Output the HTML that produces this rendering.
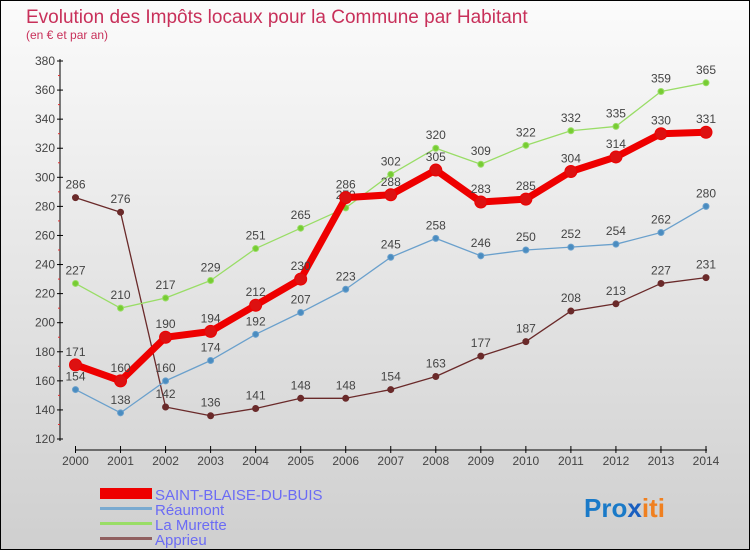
<!DOCTYPE html>
<html><head><meta charset="utf-8"><style>
body{margin:0}
#c{width:750px;height:550px;position:relative;box-sizing:border-box;border:1px solid #000;background:linear-gradient(#fbfbfb,#cfcfcf);font-family:"Liberation Sans",sans-serif;overflow:hidden}
</style></head><body>
<div id="c">
<svg id="s" width="750" height="550" style="position:absolute;left:-1px;top:-1px" font-family="Liberation Sans, sans-serif">
<text x="26" y="23" font-size="19" fill="#c8305a">Evolution des Impôts locaux pour la Commune par Habitant</text>
<text x="26" y="39" font-size="12" fill="#c8305a">(en € et par an)</text>
<g id="g"></g>
<g>
<rect x="100" y="488" width="52" height="11" fill="#e00"/>
<text x="155" y="500" font-size="15" fill="#6b6bf5">SAINT-BLAISE-DU-BUIS</text>
<rect x="100" y="507" width="52" height="3" fill="#7aaad0"/>
<text x="155" y="515" font-size="15" fill="#6b6bf5">Réaumont</text>
<rect x="100" y="522" width="52" height="3" fill="#99dd66"/>
<text x="155" y="530" font-size="15" fill="#6b6bf5">La Murette</text>
<rect x="100" y="537" width="52" height="3" fill="#906060"/>
<text x="155" y="545" font-size="15" fill="#6b6bf5">Apprieu</text>
</g>
<text x="584" y="517" font-size="26" font-weight="bold"><tspan fill="#1a7ac8">Pro</tspan><tspan fill="#1a5fc0">x</tspan><tspan fill="#f08020">it</tspan><tspan fill="#f08020">i</tspan></text>
</svg>
</div>
<script>
const years=[2000,2001,2002,2003,2004,2005,2006,2007,2008,2009,2010,2011,2012,2013,2014];
const yTicks=[120,140,160,180,200,220,240,260,280,300,320,340,360,380];
const saintBlaise=[171,160,190,194,212,230,286,288,305,283,285,304,314,330,331];
const reaumont=[154,138,160,174,192,207,223,245,258,246,250,252,254,262,280];
const laMurette=[227,210,217,229,251,265,279,302,320,309,322,332,335,359,365];
const apprieu=[286,276,142,136,141,148,148,154,163,177,187,208,213,227,231];
const NS='http://www.w3.org/2000/svg';
const g=document.getElementById('g');
const X=i=>75.5+i*(706-75.5)/14;
const Y=v=>439-(v-120)*(378/260);
function mk(t,a,p){const e=document.createElementNS(NS,t);for(const k in a)e.setAttribute(k,a[k]);(p||g).appendChild(e);return e;}
// axes
let ya=mk('line',{x1:60,y1:59,x2:60,y2:441,stroke:'#000','stroke-width':1});


let xa=mk('line',{x1:75,y1:450,x2:707,y2:450,stroke:'#000','stroke-width':1});


yTicks.forEach(v=>{
 mk('line',{x1:57,y1:Y(v),x2:63,y2:Y(v),stroke:'#000'});
 if(v<380) mk('line',{x1:58,y1:Y(v+10),x2:60,y2:Y(v+10),stroke:'#e03030'});
 const t=mk('text',{x:55,y:Y(v)+4,'font-size':12,fill:'#444','text-anchor':'end'});t.textContent=v;
 
 
});
years.forEach((y,i)=>{
 mk('line',{x1:X(i),y1:446,x2:X(i),y2:453,stroke:'#000'});
 const t=mk('text',{x:X(i),y:465,'font-size':12,fill:'#444','text-anchor':'middle'});t.textContent=y;
 
 
});
function series(d,col,dot,w,r,name){
 const pts=d.map((v,i)=>X(i)+','+Y(v)).join(' ');
 const l=mk('polyline',{points:pts,fill:'none',stroke:col,'stroke-width':w,'stroke-linejoin':'round'});
 
 
 d.forEach((v,i)=>{
  const c=mk('circle',{cx:X(i),cy:Y(v),r:r,fill:dot,stroke:col,'stroke-width':1});
  
  
  const t=mk('text',{x:X(i),y:Y(v)-9,'font-size':12,fill:'#444','text-anchor':'middle'});t.textContent=v;
  
  
 });
}
series(apprieu,'#6a2a2a','#6a2a2a',1.3,3,'apprieu');
series(laMurette,'#99dd66','#77cc33',1.3,3,'la-murette');
series(reaumont,'#6aa0cc','#4a8cc0',1.3,3,'reaumont');
series(saintBlaise,'#ee0000','#dd1111',7,6,'saint-blaise');
</script>
</body></html>
